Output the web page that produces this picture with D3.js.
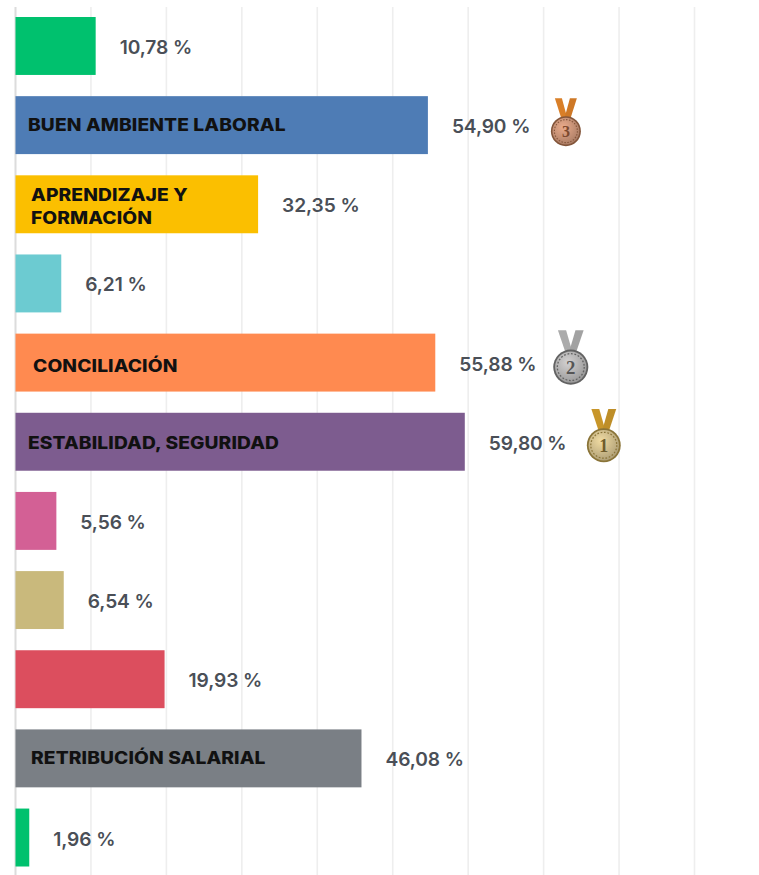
<!DOCTYPE html>
<html><head><meta charset="utf-8">
<script src="https://cdn.jsdelivr.net/npm/d3@7/dist/d3.min.js"></script>
<style>html,body{margin:0;padding:0;background:#fff;overflow:hidden}svg{display:block}</style>
</head><body><svg id="c" width="759" height="875"></svg>
<script>
const categories = ["","BUEN AMBIENTE LABORAL","APRENDIZAJE Y|FORMACIÓN","","CONCILIACIÓN","ESTABILIDAD, SEGURIDAD","","","","RETRIBUCIÓN SALARIAL",""];
const values = [10.78,54.90,32.35,6.21,55.88,59.80,5.56,6.54,19.93,46.08,1.96];
const valueLabels = ["10,78 %","54,90 %","32,35 %","6,21 %","55,88 %","59,80 %","5,56 %","6,54 %","19,93 %","46,08 %","1,96 %"];
const ticks = [0,10,20,30,40,50,60,70,80,90];
const medalRanks = ["1","2","3"];
const medalBars = [5,4,1];

// styling / layout, separate from the data
const colors = ["#00c16e","#4e7cb5","#fbbf00","#6ccbd1","#ff8a50","#7d5c8f","#d36095","#c9b97c","#dc4e5e","#7a7f85","#00c16e"];
const labelDx = [0,13,16,0,18,13,0,0,0,16,0];
const labelDy = [0,6,0,0,9,7.5,0,0,0,6,0];
const medalStyle = [
  {ribbon:"#c8962a",face:"#c2b183",edge:"#8a7438",ink:"#6f5c2c",dx:139,dy:3.5,s:1.13,top:-32},
  {ribbon:"#ababab",face:"#aaa9a9",edge:"#626262",ink:"#555",dx:135.5,dy:4.5,s:1.17,top:-31.5},
  {ribbon:"#d97f28",face:"#bd8a70",edge:"#83553a",ink:"#7d4a2f",dx:138,dy:6,s:1,top:-33}
];

const svg = d3.select("#c");
const gridX = d3.scaleLinear().domain([0,90]).range([15.5,694.5]);
const x = d3.scaleLinear().domain([0,90]).range([14.5,692.2]);
const barLeft = gridX(0);
const y = d3.scaleBand().domain(d3.range(values.length)).range([17,866.5]).paddingInner(0.268).paddingOuter(0);

const defs = svg.append("defs");
medalStyle.forEach((m,k)=>{
  const g=defs.append("radialGradient").attr("id","f"+k).attr("cx","40%").attr("cy","35%").attr("r","75%");
  g.append("stop").attr("offset","0%").attr("stop-color",d3.color(m.face).brighter(0.6));
  g.append("stop").attr("offset","100%").attr("stop-color",d3.color(m.face).darker(0.4));
});

svg.append("g").selectAll("line").data(ticks).join("line")
  .attr("x1",d=>gridX(d)).attr("x2",d=>gridX(d)).attr("y1",7).attr("y2",875)
  .attr("stroke",d=>d===0?"#dcdcdc":"#eeeeee").attr("stroke-width",d=>d===0?2:1.6);

svg.append("g").selectAll("rect").data(values).join("rect")
  .attr("x",barLeft).attr("y",(d,i)=>y(i)).attr("width",d=>x(d)-barLeft).attr("height",y.bandwidth())
  .attr("fill",(d,i)=>colors[i]);

svg.append("g").selectAll("text").data(valueLabels).join("text")
  .attr("x",(d,i)=>x(values[i])+24).attr("y",(d,i)=>y(i)+y.bandwidth()/2+8)
  .attr("font-family","Inter").attr("font-weight",600).attr("font-size",19.2)
  .attr("letter-spacing",-0.1).attr("fill","#4a4f57").text(d=>d);

const lg = svg.append("g");
categories.forEach((c,i)=>{
  if(!c) return;
  const lines=c.split("|"), cy=y(i)+y.bandwidth()/2;
  lines.forEach((t,k)=>{
    const px=barLeft+labelDx[i]-0.5, py=lines.length>1?cy+(k===0?-3:20):cy+labelDy[i];
    lg.append("text").attr("transform",`translate(${px},${py}) scale(1.13,1)`)
      .attr("font-family","Inter").attr("font-weight",800).attr("font-size",17)
      .attr("letter-spacing",0.1).attr("fill","#111").text(t);
  });
});

medalBars.forEach((b,k)=>{
  const m=medalStyle[k];
  const cx=x(values[b])+m.dx, cy=y(b)+y.bandwidth()/2+m.dy;
  const g=svg.append("g").attr("transform",`translate(${cx},${cy}) scale(${m.s})`);
  g.append("path").attr("d",`M-11,${m.top} L-4,${m.top} L2,-11 L-4,-11 Z`).attr("fill",m.ribbon);
  g.append("path").attr("d",`M11,${m.top} L4,${m.top} L-2,-11 L4,-11 Z`).attr("fill",d3.color(m.ribbon).darker(0.15));
  g.append("circle").attr("r",15).attr("fill",m.edge);
  g.append("circle").attr("r",13.4).attr("fill",`url(#f${k})`);
  g.append("circle").attr("r",11.5).attr("fill","none").attr("stroke",m.edge).attr("stroke-width",1.1).attr("stroke-dasharray","1.5 1.5");
  g.append("text").attr("text-anchor","middle").attr("y",6).attr("font-family","Liberation Serif").attr("font-weight",700)
    .attr("font-size",16).attr("fill",m.ink).text(medalRanks[k]);
});
</script></body></html>
